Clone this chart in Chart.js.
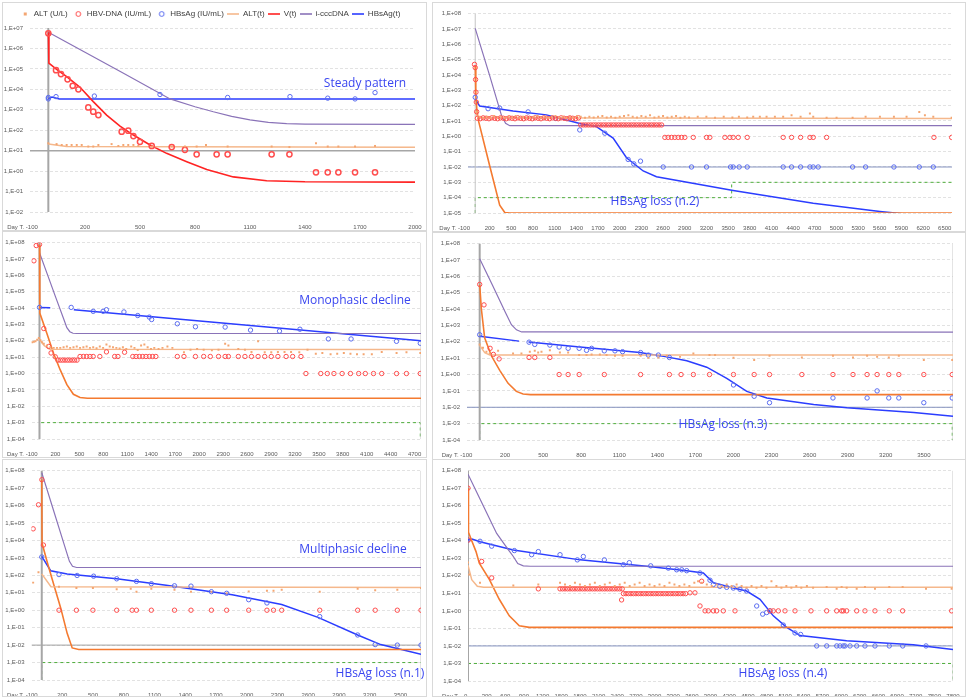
<!DOCTYPE html>
<html>
<head>
<meta charset="utf-8">
<title>HBV kinetic patterns</title>
<script src="https://cdn.jsdelivr.net/npm/chart.js@4.4.1/dist/chart.umd.min.js"></script>
<style>
  html, body { margin: 0; padding: 0; background: #fff; }
  #wrap { position: relative; width: 968px; height: 698px; overflow: hidden; }
  .panel { position: absolute; box-sizing: border-box; border: 1px solid #d9d9d9; }
  .panel canvas { display: block; }
  .note { position: absolute; transform: translate(-50%, -50%); white-space: nowrap;
          color: #3a46f0; font: 12px 'Open Sans', sans-serif; }
</style>
</head>
<body>
<div id="wrap">
  <div class="panel" style="left:2px;top:2px;width:425px;height:229px"><canvas id="c1"></canvas></div>
  <div class="panel" style="left:432px;top:2px;width:534px;height:230px"><canvas id="c2"></canvas></div>
  <div class="panel" style="left:2px;top:231px;width:425px;height:227px"><canvas id="c3"></canvas></div>
  <div class="panel" style="left:432px;top:232px;width:534px;height:228px"><canvas id="c4"></canvas></div>
  <div class="panel" style="left:2px;top:459px;width:425px;height:238px"><canvas id="c5"></canvas></div>
  <div class="panel" style="left:432px;top:459px;width:534px;height:238px"><canvas id="c6"></canvas></div>
  <div class="note" style="left:365px;top:82px">Steady pattern</div>
  <div class="note" style="left:655px;top:200px">HBsAg loss (n.2)</div>
  <div class="note" style="left:355px;top:299px">Monophasic decline</div>
  <div class="note" style="left:723px;top:423px">HBsAg loss (n.3)</div>
  <div class="note" style="left:353px;top:548px">Multiphasic decline</div>
  <div class="note" style="left:380px;top:672px">HBsAg loss (n.1)</div>
  <div class="note" style="left:783px;top:672px">HBsAg loss (n.4)</div>
</div>
<script>
// ---- tick values ----
const decadesA = [1e-2, 1e-1, 1, 10, 1e2, 1e3, 1e4, 1e5, 1e6, 1e7];
const decadesB = [1e-5, 1e-4, 1e-3, 1e-2, 1e-1, 1, 10, 1e2, 1e3, 1e4, 1e5, 1e6, 1e7, 1e8];
const decadesC = [1e-4, 1e-3, 1e-2, 1e-1, 1, 10, 1e2, 1e3, 1e4, 1e5, 1e6, 1e7, 1e8];
const daysTo2000 = [-100, 200, 500, 800, 1100, 1400, 1700, 2000];
const daysTo6500 = [-100, 200, 500, 800, 1100, 1400, 1700, 2000, 2300, 2600, 2900, 3200, 3500, 3800, 4100, 4400, 4700, 5000, 5300, 5600, 5900, 6200, 6500];
const daysTo4700 = [-100, 200, 500, 800, 1100, 1400, 1700, 2000, 2300, 2600, 2900, 3200, 3500, 3800, 4100, 4400, 4700];
const daysTo3500 = [-100, 200, 500, 800, 1100, 1400, 1700, 2000, 2300, 2600, 2900, 3200, 3500];
const daysTo7800 = [0, 300, 600, 900, 1200, 1500, 1800, 2100, 2400, 2700, 3000, 3300, 3600, 3900, 4200, 4500, 4800, 5100, 5400, 5700, 6000, 6300, 6600, 6900, 7200, 7500, 7800];

// ---- panel 1: steady pattern ----
const p1Alt = [[0,23],[45,21],[73,19],[100,19],[127,19],[155,19],[182,19],[218,16],[245,16],[273,19],[345,21],[382,17],[409,19],[436,19],[464,19],[491,17],[564,16],[673,16],[745,16],[809,16],[860,19],[978,16],[1218,16],[1315,15],[1460,23],[1524,16],[1582,16],[1673,16],[1782,17]];
const p1Dna = [[0,5.5e6],[42,8.7e4],[69,5.6e4],[105,3.1e4],[133,1.5e4],[164,1e4],[218,1300],[245,810],[273,550],[400,85],[436,95],[464,52],[500,27],[564,17],[673,15],[745,11],[809,6.6],[918,6.6],[978,6.6],[1218,6.6],[1315,6.6],[1460,0.87],[1524,0.87],[1582,0.87],[1673,0.87],[1782,0.87]];
const p1Hbs = [[0,3400],[0,4000],[42,4400],[251,4700],[609,5600],[978,4000],[1318,4400],[1524,3700],[1673,3400],[1782,6900]];
const p1AltT = [[0,21],[100,16],[2000,14.5]];
const p1V = [[0,6.2e6],[3,1.9e5],[45,9.5e4],[100,4.2e4],[173,1.26e4],[245,2500],[318,550],[391,160],[464,58],[555,19],[645,7.4],[755,2.9],[864,1.2],[1009,0.52],[1191,0.34],[1400,0.3],[2000,0.29]];
const p1Ccc = [[0,6.2e6],[200,6.5e5],[400,6.8e4],[664,3400],[800,1400],[900,800],[1000,480],[1100,320],[1200,240],[1300,210],[1400,200],[2000,195]];
const p1HbsT = [[0,3500],[20,4200],[60,3400],[2000,3400]];
const p1Day0 = [[0,1e-2],[0,1e7]];
const p1Base = [[-100,10],[2000,10]];

// ---- panel 2: HBsAg loss (n.2) ----
const p2Alt = [[20,39],[60,19],[110,16],[160,19],[210,16],[260,21],[310,17],[360,19],[410,16],[460,19],[510,17],[560,21],[610,16],[660,19],[710,17],[760,16],[810,19],[860,21],[910,17],[960,19],[1010,16],[1060,19],[1110,21],[1160,17],[1210,19],[1260,16],[1310,19],[1360,17],[1410,21],[1460,19],[1520,16],[1580,19],[1640,17],[1700,19],[1760,21],[1820,17],[1880,19],[1940,16],[2000,19],[2060,21],[2120,24],[2180,19],[2240,17],[2300,21],[2360,19],[2420,24],[2480,17],[2540,19],[2600,21],[2660,17],[2720,19],[2780,21],[2840,16],[2900,19],[2960,17],[3080,19],[3200,19],[3320,16],[3440,19],[3560,17],[3650,19],[3765,17],[3848,19],[3940,19],[4033,19],[4148,19],[4263,19],[4379,24],[4504,19],[4633,31],[4679,19],[4864,16],[5002,16],[5224,16],[5404,19],[5602,19],[5796,19],[5971,19],[6147,39],[6225,24],[6341,19],[6595,16]];
const p2Dna = [[-10,4.9e4],[0,3e4],[5,5000],[10,750],[15,170],[20,40],
  [30,15],[70,14],[110,16],[150,15],[190,14],[230,16],[270,15],[310,14],[350,16],[390,15],[430,14],[470,16],[510,15],[550,14],[590,16],[630,15],[670,14],[710,16],[750,15],[790,14],[830,16],[870,15],[910,14],[950,16],[990,15],[1030,14],[1070,16],[1110,15],[1150,14],[1190,16],[1230,15],[1270,14],[1310,16],[1350,15],[1390,14],[1430,16],
  [1460,5.5],[1495,5.5],[1530,5.5],[1565,5.5],[1600,5.5],[1635,5.5],[1670,5.5],[1705,5.5],[1740,5.5],[1775,5.5],[1810,5.5],[1845,5.5],[1880,5.5],[1915,5.5],[1950,5.5],[1985,5.5],[2020,5.5],[2055,5.5],[2090,5.5],[2125,5.5],[2160,5.5],[2195,5.5],[2230,5.5],[2265,5.5],[2300,5.5],[2335,5.5],[2370,5.5],[2405,5.5],[2440,5.5],[2475,5.5],[2510,5.5],[2545,5.5],[2580,5.5],
  [2625,0.85],[2671,0.85],[2717,0.85],[2763,0.85],[2810,0.85],[2856,0.85],[2902,0.85],[3018,0.85],[3202,0.85],[3248,0.85],[3456,0.85],[3525,0.85],[3571,0.85],[3641,0.85],[3765,0.85],[4263,0.85],[4379,0.85],[4504,0.85],[4633,0.85],[4679,0.85],[4864,0.85],[6350,0.85],[6595,0.85]];
const p2Hbs = [[0,350],[178,63],[339,69],[732,39],[1115,14.5],[1447,2.6],[1794,1.6],[2117,0.031],[2195,0.016],[2288,0.024],[2602,0.01],[2994,0.01],[3202,0.01],[3534,0.01],[3571,0.01],[3654,0.01],[3765,0.01],[4263,0.01],[4379,0.01],[4504,0.01],[4633,0.01],[4679,0.01],[4748,0.01],[5224,0.01],[5404,0.01],[5796,0.01],[6147,0.01],[6341,0.01]];
const p2AltT = [[0,40],[40,16],[6600,14.5]];
const p2V = [[0,4e4],[8,500],[25,40],[48,9],[201,0.0115],[339,3.2e-5],[409,1.07e-5],[480,1e-5],[6600,1e-5]];
const p2Ccc = [[0,1.1e7],[62,1.2e6],[200,9000],[362,24],[420,7],[478,4.9],[6600,4.9]];
const p2HbsT = [[0,275],[62,93],[524,45],[986,25],[1447,6.8],[1678,4.3],[1909,0.76],[2094,0.04],[2325,0.0055],[2509,0.0023],[3571,2.9e-4],[4679,4.3e-5],[5602,1.26e-5],[6064,7.6e-6],[6600,4e-6]];
const p2Day0 = [[0,1e-5],[0,1e8]];
const p2Ref = [[-100,0.01],[6600,0.01]];
const p2Lod = [[0,1e-5],[0,1e-4],[3550,1e-4],[3550,1e-3],[6600,1e-3]];

// ---- panel 3: monophasic decline ----
const p3Alt = [[-91,81],[-70,87],[-50,93],[-29,117],[-8,148],[12,107],[33,81],[54,65],[95,51],[136,41],[178,37],[219,37],[260,37],[302,41],[343,45],[384,37],[426,41],[467,45],[508,37],[550,41],[591,45],[632,37],[673,41],[715,35],[756,45],[797,37],[839,59],[880,45],[921,41],[963,37],[1004,34],[1045,41],[1087,32],[1149,45],[1190,37],[1231,27],[1273,51],[1314,59],[1355,41],[1397,32],[1438,37],[1492,32],[1541,37],[1603,45],[1665,37],[1810,20],[1892,28],[1975,32],[2057,28],[2160,26],[2243,28],[2326,65],[2367,51],[2491,32],[2574,28],[2656,21],[2739,93],[2822,20],[2904,20],[2987,21],[3070,21],[3152,21],[3255,20],[3358,28],[3462,16],[3544,18],[3647,15],[3730,16],[3813,18],[3896,16],[3978,15],[4061,15],[4164,15],[4288,21],[4474,18],[4598,20],[4771,18]];
const p3Dna = [[-70,7.7e6],[-41,6.6e7],[0,7.6e7],[54,560],[116,45],[145,18],[198,10.5],[230,6.6],[260,6.6],[290,6.6],[320,6.6],[350,6.6],[380,6.6],[410,6.6],[440,6.6],[470,6.6],[508,11],[550,11],[591,11],[632,11],[673,11],[756,11],[839,21],[942,11],[983,11],[1066,20],[1169,11],[1210,11],[1251,11],[1293,11],[1334,11],[1376,11],[1417,11],[1458,11],[1727,11],[1810,11],[1954,11],[2057,11],[2140,11],[2243,11],[2326,11],[2367,11],[2491,11],[2574,11],[2656,11],[2739,11],[2822,11],[2904,11],[2987,11],[3090,11],[3172,11],[3276,11],[3338,1],[3524,1],[3606,1],[3689,1],[3792,1],[3896,1],[3999,1],[4082,1],[4185,1],[4288,1],[4474,1],[4598,1],[4771,1]];
const p3Hbs = [[0,11000],[397,11000],[673,6300],[797,6300],[839,7900],[1058,5800],[1231,3500],[1376,2800],[1405,2000],[1727,1100],[1954,720],[2326,690],[2644,450],[3007,390],[3263,510],[3619,130],[3904,130],[4473,93],[4771,71]];
const p3AltT = [[0,120],[60,50],[130,30],[4780,29]];
const p3V = [[0,7.6e7],[4,5000],[95,257],[178,16],[260,1.66],[343,0.21],[425,0.054],[508,0.034],[600,0.031],[4780,0.031]];
const p3Ccc = [[0,2.4e7],[100,1.1e6],[200,5e4],[300,2400],[343,630],[380,360],[420,290],[470,280],[4780,280]];
const p3HbsT = [[0,11000],[135,10500],[136,null],[430,8000],[4780,100]];
const p3Day0 = [[0,1e-4],[0,1e8]];
const p3Edge = [[4780,1e-4],[4780,1e8]];
const p3Lod = [[0,1e-4],[0,1e-3],[4771,1e-3],[4771,1e-4]];

// ---- panel 4: HBsAg loss (n.3) ----
const p4Alt = [[0,69],[26,44],[53,25],[79,19],[145,28],[263,19],[329,19],[395,25],[434,28],[461,22],[487,25],[553,30],[632,22],[697,22],[784,15.5],[842,15.5],[882,17],[947,17],[1000,15.5],[1066,14],[1126,14],[1268,14],[1329,10.5],[1408,11],[1474,14],[1579,12],[1684,19],[1811,15.5],[1855,15.5],[2000,10.5],[2163,7.8],[2284,14],[2539,11],[2784,14],[2942,11],[3053,14],[3132,12],[3224,11],[3303,14],[3500,7.8],[3724,7.8]];
const p4Dna = [[0,3.2e5],[34,1.8e4],[82,40],[108,17],[153,9],[389,11],[434,11],[553,11],[626,1],[697,1],[784,1],[982,1],[1268,1],[1495,1],[1587,1],[1684,1],[1811,1],[2000,1],[2163,1],[2284,1],[2539,1],[2784,1],[2942,1],[3053,1],[3132,1],[3224,1],[3303,1],[3500,1],[3724,1]];
const p4Hbs = [[0,270],[389,95],[434,69],[553,63],[626,48],[697,40],[784,40],[842,30],[882,40],[982,28],[1066,28],[1126,25],[1268,22],[1329,15.5],[1408,15.5],[1495,11],[2000,0.23],[2163,0.047],[2284,0.019],[2784,0.037],[3053,0.037],[3132,0.1],[3224,0.037],[3303,0.037],[3500,0.019],[3724,0.037]];
const p4AltT = [[0,60],[40,22],[80,15.5],[3730,15.5]];
const p4V = [[0,3.2e5],[13,1.05e4],[39,174],[92,14],[158,1.8],[224,0.29],[289,0.093],[342,0.065],[400,0.059],[3730,0.059]];
const p4Ccc = [[0,1.2e7],[100,3e5],[200,6900],[250,1100],[290,540],[330,400],[3730,390]];
const p4HbsT = [[0,220],[310,110],[311,null],[385,97],[789,48],[1263,22],[1474,12],[1632,7],[1789,2.8],[1947,0.58],[2105,0.093],[2263,0.037],[2632,0.015],[2895,0.0095],[3421,0.0048],[3730,0.0028]];
const p4Day0 = [[0,1e-4],[0,1e8]];
const p4Edge = [[3730,1e-4],[3730,1e8]];
const p4Ref = [[-100,0.01],[3730,0.01]];
const p4Lod = [[0,1e-4],[0,1e-3],[3724,1e-3],[3724,1e-4]];

// ---- panel 5: multiphasic decline, HBsAg loss (n.1) ----
const p5Alt = [[-84,38],[-32,150],[168,22],[338,19],[499,19],[731,16],[868,17],[924,11.5],[1069,17],[1295,15],[1456,11.5],[1655,11.5],[1804,9.3],[2019,12],[2197,13],[2261,13],[2341,15],[2712,11.5],[3082,17],[3253,14],[3469,15],[3700,19]];
const p5Dna = [[-84,4.6e4],[-32,1.1e6],[1,3e7],[16,5400],[168,1],[338,1],[499,1],[731,1],[882,1],[924,1],[1069,1],[1295,1],[1456,1],[1655,1],[1804,1],[2019,1],[2197,1],[2261,1],[2341,1],[2712,1],[3082,1],[3253,1],[3469,1],[3700,1]];
const p5Hbs = [[0,1120],[168,110],[345,98],[506,89],[731,63],[924,45],[1069,33],[1295,25],[1456,24],[1655,11.5],[1804,9.3],[2019,4],[2197,2.6],[2712,0.43],[3082,0.038],[3253,0.0107],[3469,0.01],[3700,0.01]];
const p5AltT = [[0,120],[90,22],[3700,20]];
const p5V = [[0,3.2e7],[3,6800],[55,525],[119,27],[184,1.4],[248,0.047],[297,0.0069],[361,0.0056],[3700,0.0056]];
const p5Ccc = [[0,7.6e7],[100,1e6],[200,1.3e4],[270,630],[300,330],[340,280],[3700,280]];
const p5HbsT = [[0,1230],[87,182],[248,120],[731,63],[1214,27],[1858,7.6],[2341,2.1],[2695,0.39],[3082,0.038],[3307,0.0107],[3700,0.003]];
const p5Day0 = [[0,1e-4],[0,1e8]];
const p5Edge = [[3700,1e-4],[3700,1e8]];
const p5Ref = [[-100,0.01],[3700,0.01]];
const p5Lod = [[0,1e-4],[0,1e-3],[3700,1e-3]];

// ---- panel 6: HBsAg loss (n.4) ----
const p6Alt = [[0,575],[20,117],[193,40],[729,28],[1131,32],[1480,40],[1560,32],[1640,26],[1720,40],[1800,32],[1880,26],[1960,32],[2040,40],[2120,26],[2200,32],[2280,40],[2360,26],[2440,32],[2520,40],[2600,26],[2680,32],[2760,40],[2840,26],[2920,32],[3000,26],[3080,32],[3160,26],[3240,40],[3320,32],[3400,26],[3480,32],[3560,26],[3640,40],[3700,49],[3760,40],[3840,32],[3920,26],[4000,32],[4080,26],[4160,32],[4240,26],[4320,32],[4400,26],[4480,21],[4560,26],[4640,21],[4720,26],[4800,21],[4880,49],[4960,26],[5040,21],[5120,26],[5200,21],[5280,26],[5360,21],[5450,26],[5550,21],[5768,23],[5929,18],[6009,23],[6090,21],[6251,18],[6384,23],[6545,18],[6775,23],[6990,23],[7366,18],[7778,18]];
const p6Dna = [[0,1e7],[5,1.1e4],[220,660],[381,76],[1131,18],
  [1480,18],[1520,18],[1560,18],[1600,18],[1640,18],[1680,18],[1720,18],[1760,18],[1800,18],[1840,18],[1880,18],[1920,18],[1960,18],[2000,18],[2040,18],[2080,18],[2120,18],[2160,18],[2200,18],[2240,18],[2280,18],[2320,18],[2360,18],[2400,18],[2440,18],[2480,18],[2470,4.2],
  [2500,9.6],[2540,9.6],[2580,9.6],[2620,9.6],[2660,9.6],[2700,9.6],[2740,9.6],[2780,9.6],[2820,9.6],[2860,9.6],[2900,9.6],[2940,9.6],[2980,9.6],[3020,9.6],[3060,9.6],[3100,9.6],[3140,9.6],[3180,9.6],[3220,9.6],[3260,9.6],[3300,9.6],[3340,9.6],[3380,9.6],[3420,9.6],[3460,9.6],[3500,9.6],
  [3570,10.7],[3650,10.7],[3731,1.9],[3758,49],
  [3812,1],[3865,1],[3946,1],[3999,1],[4106,1],[4294,1],[4857,1],[4910,1],[4991,1],[5098,1],[5259,1],[5516,1],[5768,1],[5929,1],[6009,1],[6036,1],[6090,1],[6251,1],[6384,1],[6545,1],[6775,1],[6990,1],[7778,1]];
const p6Hbs = [[0,11000],[193,9300],[381,4900],[745,2750],[1024,1600],[1131,2400],[1480,1600],[1758,810],[1855,1260],[2193,810],[2498,430],[2594,560],[2938,370],[3222,275],[3356,220],[3437,220],[3517,195],[3731,145],[3892,56],[3946,32],[4050,25],[4160,22],[4267,20],[4374,17],[4481,13.5],[4643,1.9],[4739,0.65],[4803,0.8],[4857,1],[5071,0.155],[5259,0.055],[5350,0.045],[5608,0.01],[5769,0.01],[5930,0.01],[5983,0.01],[6036,0.01],[6063,0.01],[6144,0.01],[6251,0.01],[6384,0.01],[6545,0.01],[6775,0.01],[6991,0.01],[7366,0.01]];
const p6AltT = [[0,400],[60,60],[150,25],[250,22],[7800,22]];
const p6V = [[0,1e7],[8,3e4],[60,1e4],[129,2400],[182,525],[343,62],[503,4.6],[664,0.52],[825,0.14],[986,0.115],[7800,0.115]];
const p6Ccc = [[0,6.2e7],[193,2.4e6],[461,2.6e4],[650,3000],[729,1260],[800,500],[890,370],[1000,350],[7800,350]];
const p6HbsT = [[0,11000],[64,12600],[193,8700],[729,2950],[1801,810],[2874,350],[3517,195],[3785,145],[3946,40],[4267,20],[4481,13.5],[4696,4.6],[4910,0.52],[5125,0.115],[5340,0.039],[6090,0.02],[7162,0.0117],[7800,0.0062]];
const p6Day0 = [[0,1e-4],[0,1e8]];
const p6Edge = [[7800,1e-4],[7800,1e8]];
const p6Ref = [[0,0.01],[7800,0.01]];
const p6Lod = [[0,1e-3],[7800,1e-3],[7800,1e-4]];

// ---- styling ----
const FONT = "'Liberation Sans', Arial, sans-serif";
const ALT_C = '#f4a672';
const DNA_C = '#ff4d4d';
const HBS_C = '#5a6cf0';
const ALTT_C = '#f5b88c';
const V1_C = '#ff2323';
const V_C = '#f47a30';
const CCC_C = '#8a73b8';
const HBST_C = '#2b3dff';
const AXIS_C = '#a6a6a6';
const REF_C = '#8592bf';
const GREEN_C = '#4fae3c';
const TICK_C = '#595959';

function yLabel(v) {
  const e = Math.round(Math.log10(v));
  return '1,E' + (e < 0 ? '-' : '+') + String(Math.abs(e)).padStart(2, '0');
}
const xy = arr => arr.map(p => ({ x: p[0], y: p[1] }));

function line(data, color, width, dash) {
  return { data: xy(data), showLine: true, borderColor: color, backgroundColor: color,
           borderWidth: width, borderDash: dash || [], pointRadius: 0, pointHoverRadius: 0, fill: false };
}

function icon(kind, color) {
  const c = document.createElement('canvas');
  c.width = 12; c.height = 8;
  const g = c.getContext('2d');
  if (kind === 'line') {
    g.strokeStyle = color; g.lineWidth = 1.6;
    g.beginPath(); g.moveTo(0, 4); g.lineTo(12, 4); g.stroke();
  } else if (kind === 'rect') {
    g.fillStyle = color; g.fillRect(6, 2.5, 3, 3);
  } else {
    g.strokeStyle = color; g.lineWidth = 1;
    g.beginPath(); g.arc(7.5, 4, 2.4, 0, Math.PI * 2); g.stroke();
  }
  return c;
}
const legendIcons = [icon('rect', ALT_C), icon('circle', DNA_C), icon('circle', HBS_C),
  icon('line', ALTT_C), icon('line', V1_C), icon('line', CCC_C), icon('line', HBST_C)];

function makePanel(id, p) {
  const datasets = [
    { label: 'ALT (U/L)', data: xy(p.alt), pointStyle: 'rect', pointRadius: 1.4,
      backgroundColor: ALT_C, borderColor: ALT_C, borderWidth: 0 },
    { label: 'HBV-DNA (IU/mL)', data: xy(p.dna), pointStyle: 'circle', pointRadius: p.big ? 2.6 : 2.2,
      backgroundColor: 'rgba(0,0,0,0)', borderColor: DNA_C, borderWidth: p.big ? 1.5 : 1 },
    { label: 'HBsAg (IU/mL)', data: xy(p.hbs), pointStyle: 'circle', pointRadius: 2.2,
      backgroundColor: 'rgba(0,0,0,0)', borderColor: HBS_C, borderWidth: 1 },
    Object.assign(line(p.altT, ALTT_C, 1.5), { label: 'ALT(t)' }),
    Object.assign(line(p.v, p.vColor, 1.6), { label: 'V(t)' }),
    Object.assign(line(p.ccc, CCC_C, 1.2), { label: 'i-cccDNA' }),
    Object.assign(line(p.hbsT, HBST_C, 1.5), { label: 'HBsAg(t)' })
  ].concat(p.extras);

  const legend = p.legend ? {
    display: true, position: 'top',
    labels: {
      font: { size: 8, family: FONT }, color: '#404040',
      usePointStyle: true, pointStyleWidth: 12, boxHeight: 8, padding: 3,
      generateLabels: chart => Chart.defaults.plugins.legend.labels.generateLabels(chart)
        .filter(it => it.datasetIndex < 7)
        .map(it => Object.assign(it, { pointStyle: legendIcons[it.datasetIndex] }))
    }
  } : { display: false };

  return new Chart(document.getElementById(id), {
    type: 'scatter',
    data: { datasets },
    options: {
      responsive: true, maintainAspectRatio: false, animation: false, events: [],
      layout: { padding: { top: p.top, right: p.right, left: 0, bottom: 0 } },
      plugins: { legend, tooltip: { enabled: false } },
      scales: {
        x: {
          type: 'linear', min: p.xMin, max: p.xMax,
          afterBuildTicks: s => { s.ticks = p.xTicks.map(v => ({ value: v })); },
          afterFit: s => { s.height = p.xH; },
          grid: { display: false }, border: { display: false },
          ticks: { autoSkip: false, maxRotation: 0, padding: 4, color: TICK_C,
                   font: { size: 6, family: FONT },
                   callback: (v, i) => i === 0 ? p.first + ' '.repeat(p.shift) : String(v) }
        },
        y: {
          type: 'logarithmic', min: p.yMin, max: p.yMax,
          afterBuildTicks: s => { s.ticks = p.yTicks.map(v => ({ value: v })); },
          afterFit: s => { s.width = p.yW; },
          grid: { color: '#e2e2e2', drawTicks: false },
          border: { display: false, dash: [3, 2] },
          ticks: { autoSkip: false, padding: 7, color: TICK_C, font: { size: 6, family: FONT },
                   callback: v => yLabel(v) }
        }
      }
    }
  });
}

makePanel('c1', {
  alt: p1Alt, dna: p1Dna, hbs: p1Hbs, altT: p1AltT, v: p1V, ccc: p1Ccc, hbsT: p1HbsT,
  vColor: V1_C, big: true, legend: true,
  extras: [line(p1Day0, AXIS_C, 2), line(p1Base, AXIS_C, 1.5)],
  xMin: -100, xMax: 2000, xTicks: daysTo2000, yMin: 1e-2, yMax: 1e7, yTicks: decadesA,
  yW: 27, xH: 18, top: 4, right: 11, first: 'Day T. -100', shift: 9
});
makePanel('c2', {
  alt: p2Alt, dna: p2Dna, hbs: p2Hbs, altT: p2AltT, v: p2V, ccc: p2Ccc, hbsT: p2HbsT, vColor: V_C,
  extras: [line(p2Day0, '#c4c4c4', 1), line(p2Ref, REF_C, 1), line(p2Lod, GREEN_C, 1, [3, 3])],
  xMin: -100, xMax: 6600, xTicks: daysTo6500, yMin: 1e-5, yMax: 1e8, yTicks: decadesB,
  yW: 35, xH: 18, top: 7, right: 13, first: 'Day T. -100', shift: 16
});
makePanel('c3', {
  alt: p3Alt, dna: p3Dna, hbs: p3Hbs, altT: p3AltT, v: p3V, ccc: p3Ccc, hbsT: p3HbsT, vColor: V_C,
  extras: [line(p3Day0, AXIS_C, 2), line(p3Edge, '#c8c8c8', 1), line(p3Lod, GREEN_C, 1, [3, 3])],
  xMin: -100, xMax: 4780, xTicks: daysTo4700, yMin: 1e-4, yMax: 1e8, yTicks: decadesC,
  yW: 28, xH: 18, top: 6, right: 2, first: 'Day T. -100', shift: 11
});
makePanel('c4', {
  alt: p4Alt, dna: p4Dna, hbs: p4Hbs, altT: p4AltT, v: p4V, ccc: p4Ccc, hbsT: p4HbsT, vColor: V_C,
  extras: [line(p4Day0, AXIS_C, 2), line(p4Edge, '#c8c8c8', 1), line(p4Ref, REF_C, 1), line(p4Lod, GREEN_C, 1, [3, 3])],
  xMin: -100, xMax: 3730, xTicks: daysTo3500, yMin: 1e-4, yMax: 1e8, yTicks: decadesC,
  yW: 34, xH: 19, top: 5, right: 12, first: 'Day T. -100', shift: 12
});
makePanel('c5', {
  alt: p5Alt, dna: p5Dna, hbs: p5Hbs, altT: p5AltT, v: p5V, ccc: p5Ccc, hbsT: p5HbsT, vColor: V_C,
  extras: [line(p5Day0, AXIS_C, 2), line(p5Edge, '#c8c8c8', 1), line(p5Ref, '#a0a0a0', 1), line(p5Lod, GREEN_C, 1, [3, 3])],
  xMin: -100, xMax: 3700, xTicks: daysTo3500, yMin: 1e-4, yMax: 1e8, yTicks: decadesC,
  yW: 28, xH: 16, top: 3, right: 2, first: 'Day T. -100', shift: 11
});
makePanel('c6', {
  alt: p6Alt, dna: p6Dna, hbs: p6Hbs, altT: p6AltT, v: p6V, ccc: p6Ccc, hbsT: p6HbsT, vColor: V_C,
  extras: [line(p6Day0, AXIS_C, 2), line(p6Edge, '#c8c8c8', 1), line(p6Ref, REF_C, 1), line(p6Lod, GREEN_C, 1, [3, 3])],
  xMin: 0, xMax: 7800, xTicks: daysTo7800, yMin: 1e-4, yMax: 1e8, yTicks: decadesC,
  yW: 35, xH: 15, top: 8, right: 12, first: 'Day T.   0', shift: 16
});
</script>
</body>
</html>
